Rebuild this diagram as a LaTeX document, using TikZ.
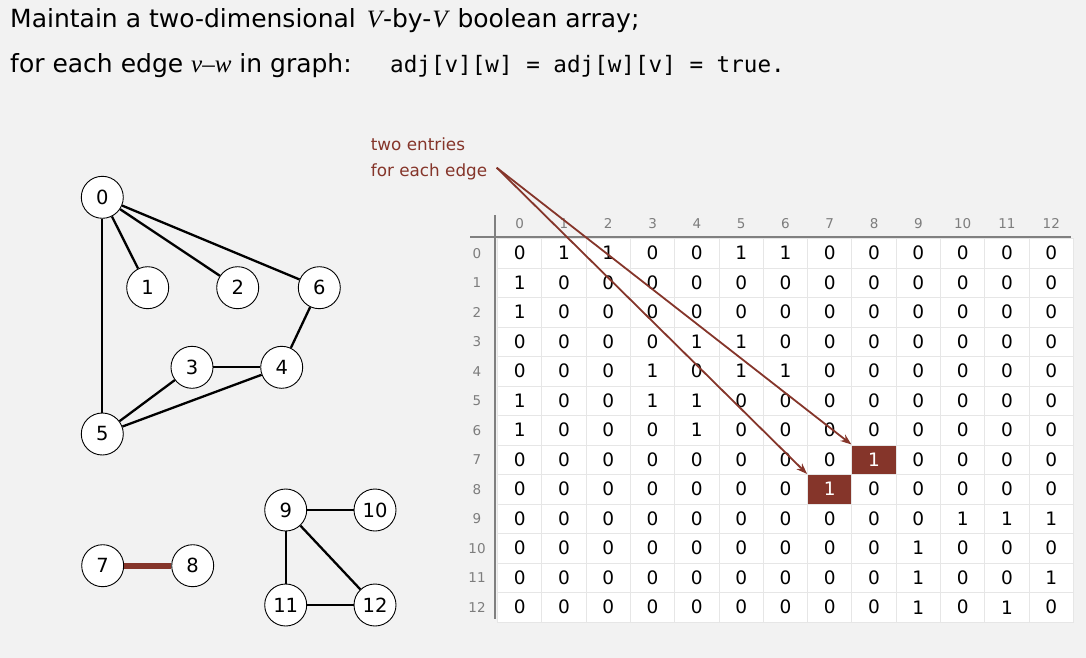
\documentclass[tikz,border=0pt]{standalone}
\usepackage{fontspec}
\setmainfont{DejaVu Sans}
\setmonofont{DejaVu Sans Mono}
\newfontfamily\serifit{Liberation Serif}
\usetikzlibrary{arrows.meta}
\definecolor{bgc}{RGB}{242,242,242}
\definecolor{brn}{RGB}{133,53,42}
\definecolor{gridc}{RGB}{230,230,230}
\definecolor{axc}{RGB}{128,128,128}
\definecolor{labc}{RGB}{125,125,125}
\tikzset{
  gnode/.style={circle, draw=black, line width=0.9pt, fill=white, minimum size=42pt, inner sep=0pt, font=\fontsize{19.5}{19.5}\selectfont},
  gedge/.style={line width=2.3pt, black},
  redge/.style={line width=6pt, brn},
  cell/.style={rectangle, draw=gridc, line width=1pt, fill=white, minimum width=44.3pt, minimum height=29.5pt, inner sep=0pt, font=\fontsize{18.5}{18.5}\selectfont},
  hcell/.style={cell, fill=brn, text=white},
  hlab/.style={text=labc, font=\fontsize{13.5}{13.5}\selectfont, inner sep=0pt},
  axis/.style={axc, line width=1.8pt},
  arr/.style={brn, line width=1.8pt, -{Stealth[length=11pt,width=8pt]}},
  title/.style={anchor=base west, inner sep=0pt, font=\fontsize{25}{28}\selectfont},
  note/.style={anchor=base west, inner sep=0pt, text=brn, align=left, font=\fontsize{16.8}{26}\selectfont}
}
\newcommand{\ital}[1]{{\serifit\itshape #1}}
\begin{document}
\begin{tikzpicture}[x=1pt,y=-1pt]
\fill[bgc] (0,0) rectangle (1086,658);
\useasboundingbox (0,0) rectangle (1086,658);

% titles
\node[title] (t1) at (10,27.5) {Maintain a two-dimensional\hspace{3pt} \ital{V}\hspace{1pt}-by-\hspace{1pt}\ital{V}\hspace{2pt} boolean array;};
\node[title] (t2) at (10,72.5) {for each edge \ital{v–w} in graph:};
\node[anchor=base west, inner sep=0pt, font=\ttfamily\fontsize{22.6}{28}\selectfont] (t3) at (390,72.5) {adj[v][w] = adj[w][v] = true.};

% note
\node[note] (nt) at (370.7,176.7) {two entries\\for each edge};

% matrix
\foreach \row [count=\r from 0] in {
  {0,1,1,0,0,1,1,0,0,0,0,0,0},
  {1,0,0,0,0,0,0,0,0,0,0,0,0},
  {1,0,0,0,0,0,0,0,0,0,0,0,0},
  {0,0,0,0,1,1,0,0,0,0,0,0,0},
  {0,0,0,1,0,1,1,0,0,0,0,0,0},
  {1,0,0,1,1,0,0,0,0,0,0,0,0},
  {1,0,0,0,1,0,0,0,0,0,0,0,0},
  {0,0,0,0,0,0,0,0,1,0,0,0,0},
  {0,0,0,0,0,0,0,1,0,0,0,0,0},
  {0,0,0,0,0,0,0,0,0,0,1,1,1},
  {0,0,0,0,0,0,0,0,0,1,0,0,0},
  {0,0,0,0,0,0,0,0,0,1,0,0,1},
  {0,0,0,0,0,0,0,0,0,1,0,1,0}} {
  \foreach \v [count=\c from 0] in \row {
    \node[cell] (m\r-\c) at ({519.65+\c*44.3},{253.25+\r*29.5}) {\v};
  }
}
\node[hcell] (h78) at (m7-8) {1};
\node[hcell] (h87) at (m8-7) {1};

% headers
\foreach \c in {0,...,12} {
  \node[hlab] (ch\c) at ({519.65+\c*44.3},223.3) {\c};
  \node[hlab] (rh\c) at (477,{253.25+\c*29.5}) {\c};
}
\draw[axis] (470,237.3) -- (1071,237.3);
\draw[axis] (495,215) -- (495,619);

% graph
\node[gnode] (g0) at (102.3,197.3) {0};
\node[gnode] (g1) at (147.7,287.7) {1};
\node[gnode] (g2) at (237.7,287.7) {2};
\node[gnode] (g6) at (319.3,287.7) {6};
\node[gnode] (g3) at (192,367.3) {3};
\node[gnode] (g4) at (281.7,367.3) {4};
\node[gnode] (g5) at (102.3,434) {5};
\node[gnode] (g7) at (102.7,565.7) {7};
\node[gnode] (g8) at (192.7,565.7) {8};
\node[gnode] (g9) at (285.7,510) {9};
\node[gnode] (g10) at (375,510) {10};
\node[gnode] (g11) at (285.7,605) {11};
\node[gnode] (g12) at (375,605) {12};

\draw[gedge] (g0) -- (g1);
\draw[gedge] (g0) -- (g2);
\draw[gedge] (g0) -- (g6);
\draw[gedge] (g0) -- (g5);
\draw[gedge] (g6) -- (g4);
\draw[gedge] (g3) -- (g4);
\draw[gedge] (g3) -- (g5);
\draw[gedge] (g4) -- (g5);
\draw[redge] (g7) -- (g8);
\draw[gedge] (g9) -- (g10);
\draw[gedge] (g9) -- (g11);
\draw[gedge] (g9) -- (g12);
\draw[gedge] (g11) -- (g12);

% arrows
\coordinate (src) at (496.7,167.7);
\draw[arr] (src) -- (h87.north west);
\draw[arr] (src) -- (h78.north west);
\end{tikzpicture}
\end{document}
